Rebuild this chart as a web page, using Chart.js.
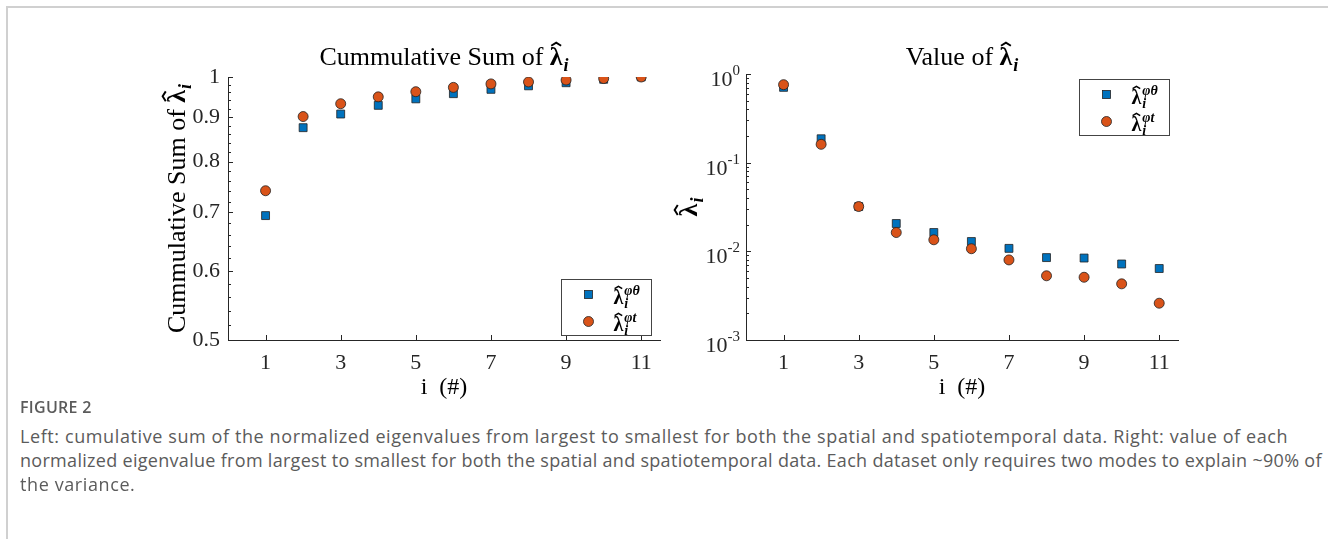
<!DOCTYPE html>
<html><head><meta charset="utf-8">
<script src="https://cdn.jsdelivr.net/npm/chart.js@4.4.1/dist/chart.umd.min.js"></script>
<style>
html,body{margin:0;padding:0;background:#fff;width:1328px;height:541px;overflow:hidden;}
#frame{position:absolute;left:6px;top:6px;width:1322px;height:531px;border-top:2px solid #d0d0d0;border-left:2px solid #d0d0d0;}
#c1{position:absolute;left:0;top:0;}
#c2{position:absolute;left:664px;top:0;}
.cap{position:absolute;left:20px;font-family:'Open Sans',sans-serif;color:#5b5b5b;white-space:nowrap;}
#figno{top:400px;font-size:16px;line-height:14px;font-weight:600;letter-spacing:0.3px;}
.ln{font-size:18px;line-height:24px;letter-spacing:0.6px;}
</style></head><body>
<div id="frame"></div>
<canvas id="c1" width="690" height="400"></canvas>
<canvas id="c2" width="664" height="400"></canvas>
<div class="cap" id="figno">FIGURE 2</div>
<div class="cap ln" style="top:424px">Left: cumulative sum of the normalized eigenvalues from largest to smallest for both the spatial and spatiotemporal data. Right: value of each</div>
<div class="cap ln" style="top:448px;letter-spacing:0.3px">normalized eigenvalue from largest to smallest for both the spatial and spatiotemporal data. Each dataset only requires two modes to explain ~90% of</div>
<div class="cap ln" style="top:472px">the variance.</div>
<script>
// ---------- data ----------
const modes = [1, 2, 3, 4, 5, 6, 7, 8, 9, 10, 11];
const cumSpatial = [0.694, 0.875, 0.907, 0.928, 0.944, 0.957, 0.968, 0.977, 0.985, 0.994, 1.0];
const cumSpatioTemporal = [0.741, 0.901, 0.932, 0.949, 0.962, 0.973, 0.982, 0.987, 0.992, 0.996, 1.0];
const valSpatial = [0.707, 0.186, 0.032, 0.0206, 0.0163, 0.0129, 0.0108, 0.0085, 0.0084, 0.0072, 0.0064];
const valSpatioTemporal = [0.758, 0.161, 0.032, 0.0163, 0.0135, 0.0107, 0.0080, 0.0053, 0.0051, 0.0043, 0.0026];
const xTicks = [1, 3, 5, 7, 9, 11];
const leftYTicks = [0.5, 0.6, 0.7, 0.8, 0.9, 1];
const leftYTickLabels = ['0.5', '0.6', '0.7', '0.8', '0.9', '1'];
const rightYTicks = [0.001, 0.01, 0.1, 1];
const rightYExponents = ['-3', '-2', '-1', '0'];
const seriesNames = ['\u03c6\u03b8', '\u03c6t'];

// ---------- style ----------
const BLUE = '#0072BD', ORANGE = '#D95319', AXIS = '#262626', EDGE = '#222222';
const SERIF = '"Liberation Serif", "Times New Roman", serif';

const leftMinor = [];
for (let v = 0.52; v < 0.999; v += 0.02) { const r = Math.round(v * 100) / 100; if (!leftYTicks.includes(r)) leftMinor.push(r); }
const rightMinor = [];
[0.001, 0.01, 0.1].forEach(d => { for (let k = 2; k <= 9; k++) rightMinor.push(d * k); });

// draw bold hat-lambda with subscript i and optional superscript; returns width
function drawLam(ctx, x, y, size, sup, measureOnly) {
  ctx.font = 'bold ' + size + 'px ' + SERIF;
  const w = ctx.measureText('\u03bb').width;
  const small = Math.round(size * 0.68);
  ctx.font = 'italic bold ' + small + 'px ' + SERIF;
  const wi = ctx.measureText('i').width;
  const ws = sup ? ctx.measureText(sup).width : 0;
  const total = w + 1 + Math.max(wi, ws);
  if (measureOnly) return total;
  ctx.font = 'bold ' + size + 'px ' + SERIF;
  ctx.textAlign = 'left'; ctx.textBaseline = 'alphabetic';
  ctx.fillText('\u03bb', x, y);
  const cx = x + w * 0.5, top = y - size * 0.86;
  ctx.beginPath();
  ctx.moveTo(cx - size * 0.19, top + size * 0.12);
  ctx.lineTo(cx, top);
  ctx.lineTo(cx + size * 0.19, top + size * 0.12);
  ctx.lineWidth = size * 0.075; ctx.lineJoin = 'miter'; ctx.stroke();
  ctx.font = 'italic bold ' + small + 'px ' + SERIF;
  ctx.fillText('i', x + w + 1, y + size * 0.24);
  if (sup) ctx.fillText(sup, x + w + 1, y - size * 0.42);
  return total;
}
function drawMathText(ctx, prefix, cx, y, size) {
  ctx.font = size + 'px ' + SERIF;
  const wp = prefix ? ctx.measureText(prefix).width : 0;
  const wl = drawLam(ctx, 0, 0, size, null, true);
  const x0 = cx - (wp + wl) / 2;
  ctx.font = size + 'px ' + SERIF;
  ctx.textAlign = 'left'; ctx.textBaseline = 'alphabetic';
  if (prefix) ctx.fillText(prefix, x0, y);
  drawLam(ctx, x0 + wp, y, size, null);
}

const decor = {
  id: 'decor',
  beforeDatasetsDraw(chart, args, o) {
    const ctx = chart.ctx, xs = chart.scales.x, ys = chart.scales.y, a = chart.chartArea;
    ctx.save(); ctx.strokeStyle = AXIS; ctx.lineWidth = 1;
    const seg = (x1, y1, x2, y2) => { ctx.beginPath(); ctx.moveTo(x1, y1); ctx.lineTo(x2, y2); ctx.stroke(); };
    xTicks.forEach(v => { const px = Math.round(xs.getPixelForValue(v)) + 0.5; seg(px, a.bottom, px, a.bottom - 5); });
    o.yMajor.forEach(v => { const py = Math.round(ys.getPixelForValue(v)) + 0.5; seg(a.left, py, a.left + 5, py); });
    o.yMinor.forEach(v => { const py = Math.round(ys.getPixelForValue(v)) + 0.5; seg(a.left, py, a.left + 3, py); });
    ctx.restore();
  },
  afterDatasetsDraw(chart, args, o) {
    const ctx = chart.ctx, a = chart.chartArea;
    ctx.save();
    const bw = 90, bh = 56;
    const bx = Math.round(a.right - 9 - bw) + 0.5;
    const by = o.legendPos === 'se' ? Math.round(a.bottom - 5 - bh) + 0.5 : Math.round(a.top + 5) + 0.5;
    ctx.fillStyle = '#fff'; ctx.fillRect(bx, by, bw, bh);
    ctx.strokeStyle = '#444'; ctx.lineWidth = 1; ctx.strokeRect(bx, by, bw, bh);
    const rows = [by + 15, by + 42];
    ctx.fillStyle = BLUE; ctx.strokeStyle = EDGE; ctx.lineWidth = 0.8;
    ctx.fillRect(bx + 23, rows[0] - 4, 8, 8); ctx.strokeRect(bx + 23, rows[0] - 4, 8, 8);
    ctx.beginPath(); ctx.arc(bx + 27, rows[1], 5, 0, Math.PI * 2); ctx.fillStyle = ORANGE; ctx.fill(); ctx.stroke();
    ctx.fillStyle = '#000'; ctx.strokeStyle = '#000';
    drawLam(ctx, bx + 52, rows[0] + 9, 20, seriesNames[0]);
    drawLam(ctx, bx + 52, rows[1] + 9, 20, seriesNames[1]);
    ctx.restore();
  },
  afterDraw(chart, args, o) {
    const ctx = chart.ctx, a = chart.chartArea, ys = chart.scales.y;
    ctx.save(); ctx.fillStyle = '#000'; ctx.strokeStyle = '#000';
    drawMathText(ctx, o.title, (a.left + a.right) / 2, 65, 26);
    ctx.save();
    ctx.translate(o.ylabelX, (a.top + a.bottom) / 2);
    ctx.rotate(-Math.PI / 2);
    drawMathText(ctx, o.ylabel, 0, 0, 26);
    ctx.restore();
    if (o.powerLabels) {
      ctx.fillStyle = AXIS;
      rightYTicks.forEach((v, i) => {
        const py = ys.getPixelForValue(v);
        ctx.font = '15px ' + SERIF;
        const we = ctx.measureText(rightYExponents[i]).width;
        const xe = a.left - 6 - we;
        ctx.textAlign = 'left'; ctx.textBaseline = 'alphabetic';
        ctx.fillText(rightYExponents[i], xe, py + 1);
        ctx.font = '22px ' + SERIF; ctx.textAlign = 'right';
        ctx.fillText('10', xe, py + 12);
      });
    }
    ctx.restore();
  }
};

function makeDatasets(a, b) {
  return [
    { label: 'phi-theta', data: modes.map((m, k) => ({ x: m, y: a[k] })), pointStyle: 'rect', pointRadius: 5.6,
      backgroundColor: BLUE, borderColor: EDGE, borderWidth: 0.8, showLine: false, order: 2 },
    { label: 'phi-t', data: modes.map((m, k) => ({ x: m, y: b[k] })), pointStyle: 'circle', pointRadius: 5,
      backgroundColor: ORANGE, borderColor: EDGE, borderWidth: 0.8, showLine: false, order: 1 }
  ];
}
function xScale() {
  return {
    type: 'linear', min: 0, max: 11.5, bounds: 'data',
    afterBuildTicks: s => { s.ticks = xTicks.map(v => ({ value: v })); },
    afterFit: s => { s.height = 60; },
    grid: { display: false, drawTicks: false }, border: { display: true, color: AXIS, width: 1 },
    ticks: { font: { family: SERIF, size: 22 }, color: AXIS, padding: 10, maxRotation: 0, autoSkip: false },
    title: { display: true, text: 'i  (#)', font: { family: SERIF, size: 24, lineHeight: 1 }, color: '#000', padding: { top: 0, bottom: 0 } }
  };
}

new Chart(document.getElementById('c1'), {
  type: 'scatter',
  data: { datasets: makeDatasets(cumSpatial, cumSpatioTemporal) },
  options: {
    responsive: false, animation: false, events: [],
    layout: { padding: { left: 0, top: 77, right: 30, bottom: 0 } },
    plugins: { legend: { display: false }, tooltip: { enabled: false },
      decor: { title: 'Cummulative Sum of ', ylabel: 'Cummulative Sum of ', ylabelX: 185, legendPos: 'se',
               yMajor: leftYTicks, yMinor: leftMinor, powerLabels: false } },
    scales: {
      x: xScale(),
      y: {
        type: 'logarithmic', min: 0.5, max: 1, bounds: 'data',
        afterBuildTicks: s => { s.ticks = leftYTicks.map(v => ({ value: v })); },
        afterFit: s => { s.width = 228; },
        grid: { display: false, drawTicks: false }, border: { display: true, color: AXIS, width: 1 },
        ticks: { font: { family: SERIF, size: 22 }, color: AXIS, padding: 8, autoSkip: false,
                 callback: (v) => { const i = leftYTicks.indexOf(v); return i >= 0 ? leftYTickLabels[i] : ''; } }
      }
    }
  },
  plugins: [decor]
});

new Chart(document.getElementById('c2'), {
  type: 'scatter',
  data: { datasets: makeDatasets(valSpatial, valSpatioTemporal) },
  options: {
    responsive: false, animation: false, events: [],
    layout: { padding: { left: 0, top: 74, right: 150, bottom: 0 } },
    plugins: { legend: { display: false }, tooltip: { enabled: false },
      decor: { title: 'Value of ', ylabel: '', ylabelX: 33, legendPos: 'ne',
               yMajor: rightYTicks, yMinor: rightMinor, powerLabels: true } },
    scales: {
      x: xScale(),
      y: {
        type: 'logarithmic', min: 0.001, max: 1, bounds: 'data',
        afterBuildTicks: s => { s.ticks = rightYTicks.map(v => ({ value: v })); },
        afterFit: s => { s.width = 82; },
        grid: { display: false, drawTicks: false }, border: { display: true, color: AXIS, width: 1 },
        ticks: { display: false }
      }
    }
  },
  plugins: [decor]
});
</script>
</body></html>
